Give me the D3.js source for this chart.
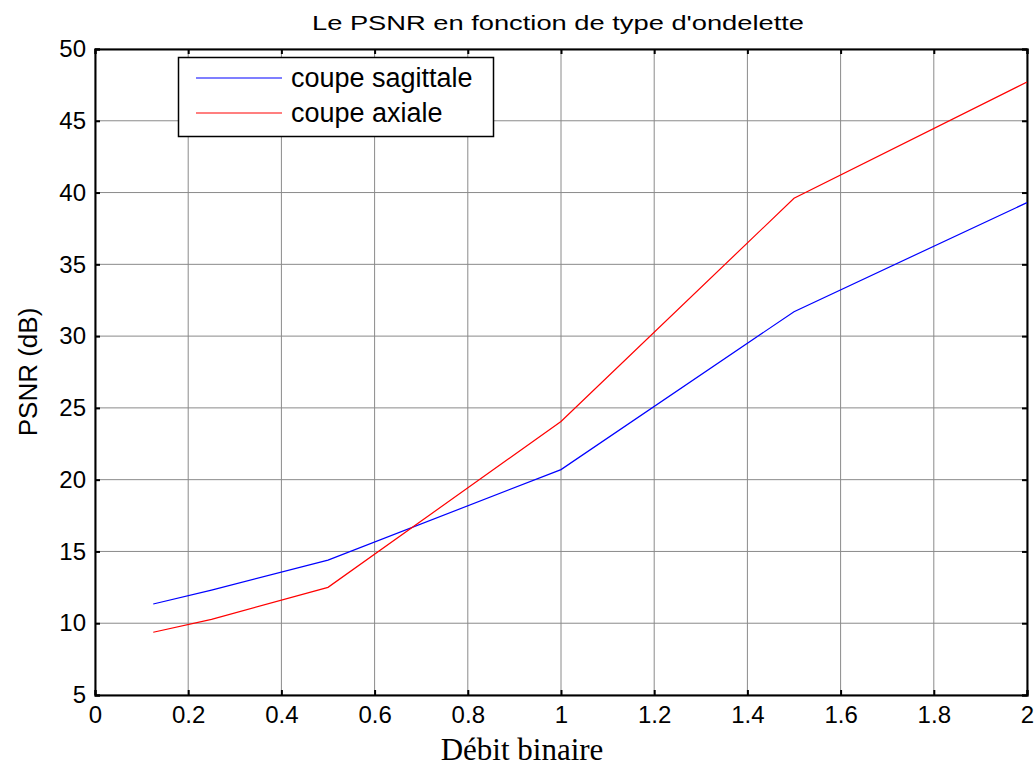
<!DOCTYPE html>
<html><head><meta charset="utf-8">
<script src="https://cdn.jsdelivr.net/npm/d3@7"></script>
<style>body{margin:0;background:#fff}svg{display:block}</style>
</head><body><svg id="c" width="1036" height="776"></svg>
<script>
const debit = [0.125, 0.25, 0.5, 1, 1.5, 2];
const sagittale = [11.34, 12.3, 14.4, 20.7, 31.7, 39.3];
const axiale = [9.37, 10.27, 12.5, 24.05, 39.6, 47.7];
const xTicks = [0, 0.2, 0.4, 0.6, 0.8, 1, 1.2, 1.4, 1.6, 1.8, 2];
const yTicks = [5, 10, 15, 20, 25, 30, 35, 40, 45, 50];
const seriesNames = ["coupe sagittale", "coupe axiale"];
const seriesColors = ["#0000ff", "#ff0000"];
const title = "Le PSNR en fonction de type d'ondelette";
const xLabel = "Débit binaire";
const yLabel = "PSNR (dB)";

const svg = d3.select("#c");
const L = 95, R = 1027, T = 49, B = 695;
const x = d3.scaleLinear().domain([0, 2]).range([L, R]);
const y = d3.scaleLinear().domain([5, 50]).range([B, T]);
const font = "'Liberation Sans', Arial, sans-serif";

// grid
const g = svg.append("g");
g.selectAll("line.gx").data(xTicks).join("line")
  .attr("x1", d => x(d)).attr("x2", d => x(d)).attr("y1", T).attr("y2", B)
  .attr("stroke", "#8a8a8a").attr("stroke-width", 1);
g.selectAll("line.gy").data(yTicks).join("line")
  .attr("y1", d => y(d)).attr("y2", d => y(d)).attr("x1", L).attr("x2", R)
  .attr("stroke", "#8a8a8a").attr("stroke-width", 1);

// axes (ticks inward on all four sides)
const tl = 5;
const ax = svg.append("g").attr("transform", `translate(0,${B})`)
  .call(d3.axisBottom(x).tickValues(xTicks).tickSize(-tl).tickPadding(11).tickFormat(d3.format("~g")));
const axT = svg.append("g").attr("transform", `translate(0,${T})`)
  .call(d3.axisTop(x).tickValues(xTicks).tickSize(-tl).tickFormat(""));
const ay = svg.append("g").attr("transform", `translate(${L},0)`)
  .call(d3.axisLeft(y).tickValues(yTicks).tickSize(-tl).tickPadding(11));
const ayR = svg.append("g").attr("transform", `translate(${R},0)`)
  .call(d3.axisRight(y).tickValues(yTicks).tickSize(-tl).tickFormat(""));
[ax, axT, ay, ayR].forEach(a => {
  a.select(".domain").attr("stroke", "#000").attr("stroke-width", 2);
  a.selectAll(".tick line").attr("stroke", "#000").attr("stroke-width", 2);
  a.selectAll(".tick text").attr("font-family", font).attr("font-size", 24).attr("fill", "#000");
});
ax.selectAll(".tick text").attr("dy", "0.72em");
ay.selectAll(".tick text").attr("dx", "2");

// lines
const line = d3.line().x((d, i) => x(debit[i])).y(d => y(d));
[sagittale, axiale].forEach((s, k) => {
  svg.append("path").attr("d", line(s)).attr("fill", "none")
    .attr("stroke", seriesColors[k]).attr("stroke-width", 1.2);
});

// legend
const lg = svg.append("g");
lg.append("rect").attr("x", 178.5).attr("y", 57.5).attr("width", 315).attr("height", 79)
  .attr("fill", "#fff").attr("stroke", "#000").attr("stroke-width", 1.5);
seriesNames.forEach((n, k) => {
  const yy = 78 + k * 35;
  lg.append("line").attr("x1", 196).attr("x2", 282).attr("y1", yy).attr("y2", yy)
    .attr("stroke", seriesColors[k]).attr("stroke-width", 1.2);
  lg.append("text").attr("x", 291).attr("y", yy + 9).text(n)
    .attr("font-family", font).attr("font-size", 27).attr("fill", "#000");
});

// title and labels
svg.append("text").attr("x", 312).attr("y", 30)
  .attr("font-family", font).attr("font-size", 20)
  .attr("textLength", 492).attr("lengthAdjust", "spacingAndGlyphs").text(title);
svg.append("text").attr("transform", "translate(37,372) rotate(-90)").attr("text-anchor", "middle")
  .attr("font-family", font).attr("font-size", 26).text(yLabel);
svg.append("text").attr("x", 522).attr("y", 760).attr("text-anchor", "middle")
  .attr("font-family", "'Liberation Serif', 'Times New Roman', serif").attr("font-size", 31).text(xLabel);
</script></body></html>
